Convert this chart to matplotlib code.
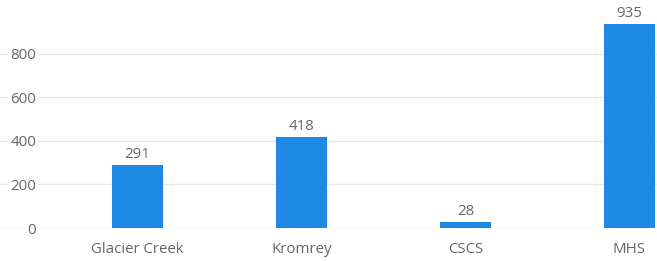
import matplotlib
matplotlib.use("Agg")
import matplotlib.pyplot as plt

categories = ["Glacier Creek", "Kromrey", "CSCS", "MHS"]
values = [291, 418, 28, 935]
yticks = [0, 200, 400, 600, 800]

plt.rcParams['font.family'] = ['Open Sans', 'DejaVu Sans']

fig = plt.figure(figsize=(6.57, 2.61), dpi=100)
# axes spans whole width so gridlines start at the left edge
ax = fig.add_axes([0, 1 - 228 / 261, 1, 228 / 261])

x = list(range(len(categories)))
bars = ax.bar(x, values, width=0.311, color="#1e88e5", zorder=3)

for xi, v in zip(x, values):
    ax.annotate(str(v), (xi, v), xytext=(0, 2), textcoords="offset points",
                ha="center", va="bottom", fontsize=10.8, color="#666666")

ax.set_xlim((0 - 137.5) / 164, (657 - 137.5) / 164)
ax.set_ylim(0, 228 / ((228 - 53.5) / 800))
ax.set_yticks(yticks)
ax.set_xticks(x)
ax.set_xticklabels(categories)

ax.grid(axis="y", color="#e6e6e6", linewidth=1)
ax.set_axisbelow(True)
for s in ax.spines.values():
    s.set_visible(False)

ax.tick_params(axis="x", length=0, pad=10, labelsize=10.8, labelcolor="#666666")
ax.tick_params(axis="y", length=0, pad=-26, labelsize=10.8, labelcolor="#666666")
for lbl in ax.get_yticklabels():
    lbl.set_bbox(dict(facecolor="white", edgecolor="none", pad=1.5))

fig.savefig("out.png", dpi=100)
